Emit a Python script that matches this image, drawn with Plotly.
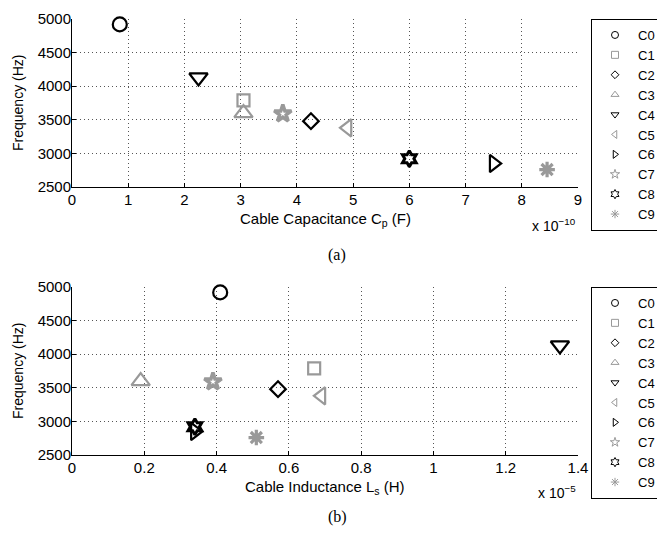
import plotly.graph_objects as go

# ---------------- data ----------------
names = ["C0", "C1", "C2", "C3", "C4", "C5", "C6", "C7", "C8", "C9"]
freq_hz = [4920, 3790, 3480, 3600, 4130, 3380, 2850, 3590, 2920, 2760]
cap_e10 = [0.85, 3.05, 4.25, 3.05, 2.25, 4.90, 7.50, 3.75, 6.00, 8.45]   # x 1e-10 F
ind_e5 = [0.41, 0.67, 0.57, 0.19, 1.35, 0.69, 0.34, 0.39, 0.34, 0.51]    # x 1e-5 H
x_ticks_a = [0, 1, 2, 3, 4, 5, 6, 7, 8, 9]
x_ticks_b = [0, 0.2, 0.4, 0.6, 0.8, 1.0, 1.2, 1.4]
y_ticks = [2500, 3000, 3500, 4000, 4500, 5000]

symbols = ["circle-open", "square-open", "diamond-open", "triangle-up-open",
           "triangle-down-open", "triangle-left-open", "triangle-right-open",
           "star-open", "hexagram-open", "asterisk-open"]
colors = ["black", "#999999", "black", "#999999", "black",
          "#999999", "black", "#999999", "black", "#999999"]
sizes = [14, 12, 12, 16, 16, 15, 15, 13, 12, 13]
lw = [2.2, 2.2, 2.2, 2.2, 2.2, 2.2, 2.2, 3.5, 3.0, 3.2]
leg_sizes = [7, 7, 6, 7, 7, 7, 7, 7, 7, 7]

OFF = 8                     # page body margin of the html page
W, H = 657, 519
L, R, T, B = 64, 87, 11, 72
plot_w = W - L - R
plot_h = H - T - B


def py(screen_y):
    return (H - B - (screen_y - OFF)) / plot_h


def px(screen_x):
    return ((screen_x - OFF) - L) / plot_w


FONT = "Liberation Sans, Arial, Helvetica"
fig = go.Figure()

for xs, xa, ya, leg in [(cap_e10, "x", "y", "legend"), (ind_e5, "x2", "y2", "legend2")]:
    for i, n in enumerate(names):
        fig.add_trace(go.Scatter(
            x=[xs[i]], y=[freq_hz[i]], mode="markers", xaxis=xa, yaxis=ya,
            marker=dict(symbol=symbols[i], size=sizes[i], color=colors[i],
                        line=dict(color=colors[i], width=lw[i])),
            cliponaxis=False, showlegend=False, hoverinfo="skip"))
    for i, n in enumerate(names):
        fig.add_trace(go.Scatter(
            x=[None], y=[None], mode="markers", xaxis=xa, yaxis=ya,
            name=n, legend=leg,
            marker=dict(symbol=symbols[i], size=leg_sizes[i], color=colors[i],
                        line=dict(color=colors[i], width=1))))

axis_common = dict(
    showline=True, linecolor="black", linewidth=1, mirror=False,
    ticks="inside", ticklen=4, tickcolor="black", tickwidth=1,
    showgrid=True, gridcolor="#555555", griddash="1px,3px", gridwidth=1,
    zeroline=False, tickfont=dict(family=FONT, size=15, color="black"),
)

fig.update_layout(
    width=W, height=H,
    margin=dict(l=L, r=R, t=T, b=B, autoexpand=False),
    paper_bgcolor="white", plot_bgcolor="white",
    font=dict(family=FONT, size=13, color="black"),
    xaxis=dict(axis_common, range=[0, 9], tickvals=x_ticks_a, domain=[0, 1], anchor="y",
               ticklabelstandoff=-1),
    yaxis=dict(axis_common, range=[2500, 5000], tickvals=y_ticks,
               domain=[py(187), py(19)], anchor="x", ticklabelstandoff=-3),
    xaxis2=dict(axis_common, range=[0, 1.4], tickvals=x_ticks_b,
                ticktext=[("%g" % v) for v in x_ticks_b], domain=[0, 1], anchor="y2",
                ticklabelstandoff=-1),
    yaxis2=dict(axis_common, range=[2500, 5000], tickvals=y_ticks,
                domain=[py(455), py(287)], anchor="x2", ticklabelstandoff=-3),
    legend=dict(x=px(591), xanchor="left", y=py(19), yanchor="top",
                bordercolor="black", borderwidth=1, bgcolor="white", itemwidth=36,
                font=dict(family=FONT, size=13, color="black"), itemclick=False),
    legend2=dict(x=px(591), xanchor="left", y=py(287), yanchor="top",
                 bordercolor="black", borderwidth=1, bgcolor="white", itemwidth=36,
                 font=dict(family=FONT, size=13, color="black"), itemclick=False),
)

annots = [
    ("Cable Capacitance C<sub>p</sub> (F)", px(325), py(219), "center", 15, FONT, 0),
    ("Cable Inductance L<sub>s</sub> (H)", px(325), py(487), "center", 15, FONT, 0),
    ("Frequency (Hz)", px(18), py(103), "center", 14, FONT, -90),
    ("Frequency (Hz)", px(18), py(371), "center", 14, FONT, -90),
    ("x 10<sup>\u221210</sup>", px(578), py(225), "right", 14, FONT, 0),
    ("x 10<sup>\u22125</sup>", px(578), py(492), "right", 14, FONT, 0),
    ("(a)", px(337), py(255), "center", 16, "Liberation Serif, Times New Roman", 0),
    ("(b)", px(337), py(517), "center", 16, "Liberation Serif, Times New Roman", 0),
]
for text, x, y, xanchor, size, fam, ang in annots:
    fig.add_annotation(text=text, xref="paper", yref="paper", x=x, y=y,
                       xanchor=xanchor, yanchor="middle", showarrow=False, textangle=ang,
                       font=dict(family=fam, size=size, color="black"))

fig.write_html("out.html")
